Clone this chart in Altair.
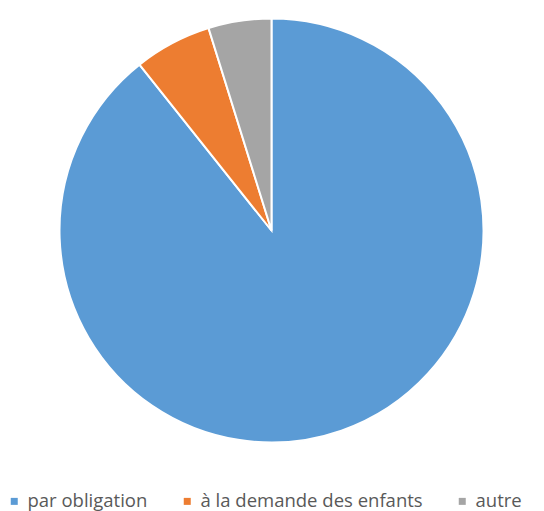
import altair as alt
import pandas as pd

categories = ["par obligation", "à la demande des enfants", "autre"]
values = [89.3, 5.9, 4.8]
colors = ["#5B9BD5", "#ED7D31", "#A5A5A5"]

df = pd.DataFrame({"cat": categories, "val": values, "ord": list(range(len(categories)))})

chart = alt.Chart(df).mark_arc(radius=212, stroke="white", strokeWidth=2).encode(
    theta=alt.Theta("val:Q", stack=True),
    order=alt.Order("ord:Q"),
    color=alt.Color(
        "cat:N",
        sort=categories,
        scale=alt.Scale(domain=categories, range=colors),
        legend=alt.Legend(
            title=None,
            orient="none",
            direction="horizontal",
            legendX=-3,
            legendY=484,
            symbolType="square",
            symbolSize=49,
            symbolStrokeWidth=0,
            labelFontSize=18.5,
            labelFont="Open Sans",
            labelColor="#595959",
            labelOffset=4,
            labelLimit=400,
            columnPadding=30,
        ),
    ),
    x=alt.value(263.5),
    y=alt.value(222.5),
).properties(
    width=528, height=503, autosize=alt.AutoSizeParams(type="none"), padding=0
).configure_view(stroke=None)

chart.save("out.html", embed_options={"renderer": "svg", "actions": False})
